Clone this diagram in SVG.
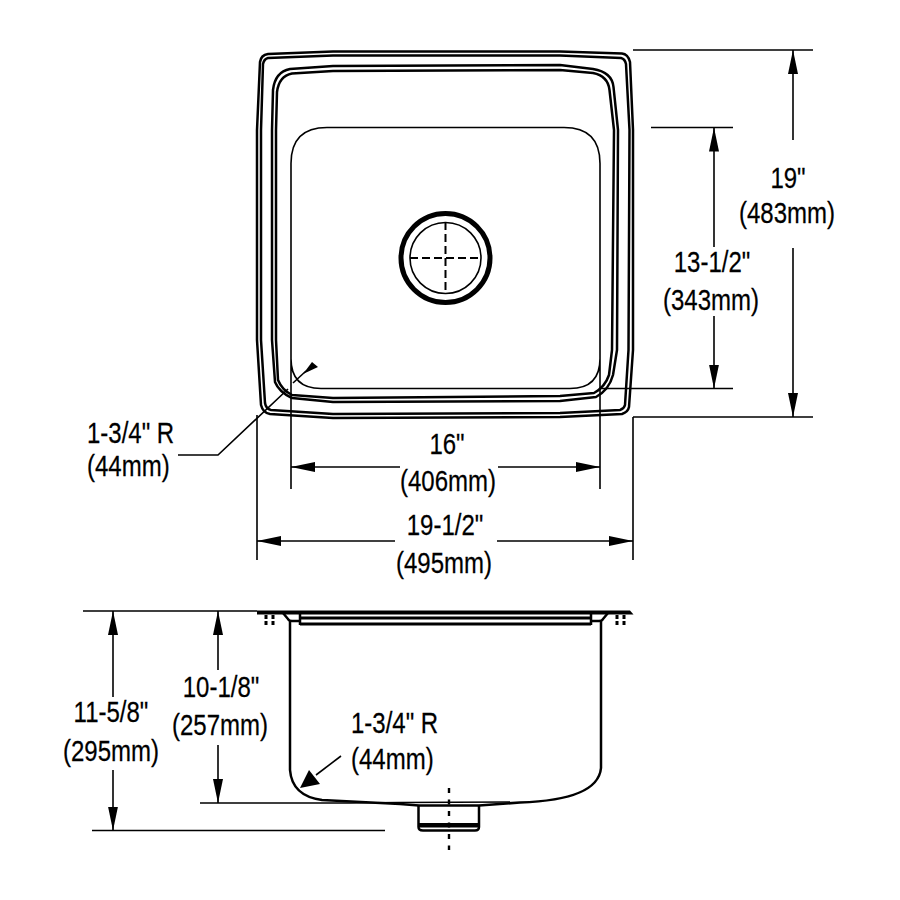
<svg xmlns="http://www.w3.org/2000/svg" width="900" height="900" viewBox="0 0 900 900">
<style>
.l{fill:none;stroke:#000;stroke-width:1.6}
.m{fill:none;stroke:#000;stroke-width:2.5;stroke-linejoin:round}
.h{fill:none;stroke:#000;stroke-width:3}
.d{fill:none;stroke:#000;stroke-width:2;stroke-dasharray:8 4}
.a{fill:none;stroke:#000;stroke-width:1.6;marker-end:url(#arr)}
text{font-family:"Liberation Sans",Arial,sans-serif;font-size:30px;fill:#000;text-anchor:middle;stroke:#000;stroke-width:.25}
.s{text-anchor:start}
</style>
<defs>
<marker id="arr" markerUnits="userSpaceOnUse" markerWidth="26" markerHeight="12" refX="24" refY="6" orient="auto">
<path d="M0 1L24 6L0 11Z" fill="#000"/>
</marker>
</defs>
<rect width="900" height="900" fill="#fff"/>
<g id="plan-view">
<path class="m" d="M333 51.500L560 51.500L622 53.500Q628 54 630 62L633 130L633 350L629 407Q628 412 622 414L560 417L333 418L270 414Q263 413 261 405L257 340L257 130L260 62Q261 55 268 54Z"/>
<path class="m" d="M333 55.500L560 55.500L621 58Q625 59 626 64L629.500 130L628.500 350L625 405Q624 409 620 410L560 413L333 414L271 410Q266 409 265 403L261 340L261 130L263 64Q264 59 268 58Z"/>
<path class="m" d="M333 66L560 65L593 69Q612 72 613.500 87L618 130L617 350L613 375Q609 390 596 397L560 401L333 402L292 398Q279 392 275 382L272 340L272 130L273 90Q275 72 290 69Z"/>
<path class="m" d="M333 71L560 70L593 73Q608 76 609.500 90L614 130L612 350L609 375Q605 387 594 393L560 396L333 398L292 395Q282 390 278 380L276 340L276 130L277 92Q279 76 292 73.500Z"/>
<path class="l" d="M291 489L291 163.500Q291 127.500 327 127.500L564 127.500Q600 127.500 600 163.500L600 489M291 358.500Q291 388.500 321 388.500L570 388.500Q600 388.500 600 358.500"/>
<g id="drain">
<circle cx="445.500" cy="258" r="44.500" fill="none" stroke="#000" stroke-width="5"/>
<circle cx="445.500" cy="258" r="35.500" class="l"/>
<path class="d" d="M410 258L482 258M445.500 222L445.500 294"/>
</g>
</g>
<g id="side-view">
<path d="M257 610.500L630 610.500L633.500 614.500L257 614.500Z" fill="#000"/>
<path d="M300 618L591 618M300 624L591 624" class="h"/>
<path class="m" d="M300 613L300 625M591 613L591 625M283 613L288 619Q289 621 292 621L300 621M608 613L603 619Q602 621 599 621L591 621"/>
<path class="m" d="M290 620L290 770Q292 796 322 800L400 804L419 805.500L479 805.500L520 802.500Q598 800 601 768L601 620"/>
<path class="l" d="M200 803L350 803L400 802.500L510 802"/>
<path class="m" d="M418.500 805L418.500 827Q418.500 830.500 423 830.500L475 830.500Q479 830.500 479 827L479 805"/>
<rect x="418" y="823" width="61" height="4.500" fill="#000"/>
<path d="M449 788L449 850" fill="none" stroke="#000" stroke-width="2.400" stroke-dasharray="5 6.500"/>
<g id="clips" fill="none" stroke="#000" stroke-width="3">
<path d="M266 615L266 619M266 621L266 625M273 615L273 619M273 621L273 625M617 615L617 619M617 621L617 625M624 615L624 619M624 621L624 625"/>
</g>
</g>
<g id="connectors">
<path class="l" d="M633 50L813 50M633 417L813 417M651 127.500L733 127.500M600 388.500L733 388.500"/>
<path class="l" d="M257 415L257 560M633 417L633 560"/>
<path class="l" d="M83 611L257 611M92 830.500L385 830.500"/>
<path class="a" d="M793 140L793 50"/><path class="a" d="M793 248L793 417"/>
<path class="a" d="M714 247L714 127.500"/><path class="a" d="M714 316L714 388.500"/>
<path class="a" d="M400 467L291 467"/><path class="a" d="M498 467L600 467"/>
<path class="a" d="M395 541L257 541"/><path class="a" d="M497 541L633 541"/>
<path class="a" d="M113 697L113 611"/><path class="a" d="M113 770L113 830.500"/>
<path class="a" d="M218 670L218 611"/><path class="a" d="M218 745L218 803"/>
<path class="l" d="M178 455L218 455L288 389"/>
<path class="l" d="M293 383L306 371"/>
<path d="M303 374L312 362L318 367Z" fill="#000"/>
<path class="l" d="M341 756L316 775"/>
<path d="M300 788L309 770L320 784Z" fill="#000"/>
</g>
<g id="labels">
<text transform="translate(788 188) scale(.8 1)">19"</text>
<text transform="translate(787 223) scale(.8 1)">(483mm)</text>
<text transform="translate(712 272) scale(.8 1)">13-1/2"</text>
<text transform="translate(711 310) scale(.8 1)">(343mm)</text>
<text transform="translate(447 454) scale(.8 1)">16"</text>
<text transform="translate(448 491) scale(.8 1)">(406mm)</text>
<text transform="translate(445 535) scale(.8 1)">19-1/2"</text>
<text transform="translate(444 573) scale(.8 1)">(495mm)</text>
<text class="s" transform="translate(87 443) scale(.8 1)">1-3/4" R</text>
<text class="s" transform="translate(87 476) scale(.8 1)">(44mm)</text>
<text transform="translate(111 722) scale(.8 1)">11-5/8"</text>
<text transform="translate(111 761) scale(.8 1)">(295mm)</text>
<text transform="translate(221 697) scale(.8 1)">10-1/8"</text>
<text transform="translate(220 735) scale(.8 1)">(257mm)</text>
<text class="s" transform="translate(351 733) scale(.8 1)">1-3/4" R</text>
<text class="s" transform="translate(351 769) scale(.8 1)">(44mm)</text>
</g>
</svg>
